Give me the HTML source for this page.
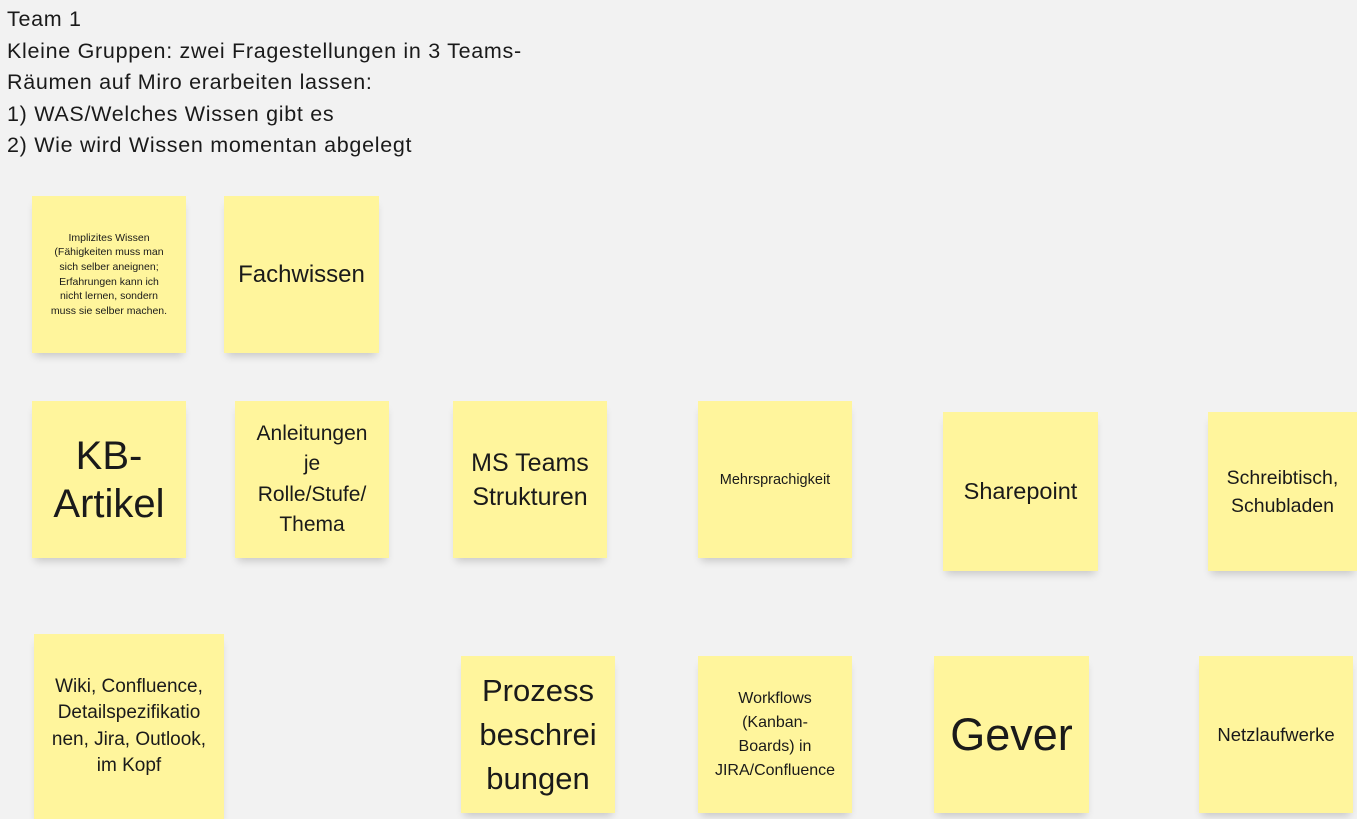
<!DOCTYPE html>
<html><head><meta charset="utf-8"><style>
html,body{margin:0;padding:0}
body{width:1357px;height:819px;background:#f2f2f2;position:relative;overflow:hidden;font-family:"Liberation Sans","DejaVu Sans",sans-serif;color:#1a1a1a}
.t{position:absolute;left:7px;top:4px;font-size:21.5px;letter-spacing:0.7px;line-height:31.6px;white-space:nowrap}
.n{position:absolute;background:#fff59c;box-shadow:0 6px 8px -3px rgba(0,0,0,0.18);display:flex;align-items:center;justify-content:center;text-align:center;box-sizing:border-box;padding:0 8px}
</style></head><body>
<div class="t">Team 1<br>Kleine Gruppen: zwei Fragestellungen in 3 Teams-<br>Räumen auf Miro erarbeiten lassen:<br>1) WAS/Welches Wissen gibt es<br>2) Wie wird Wissen momentan abgelegt</div>

<div class="n" style="left:32px;top:196px;width:154px;height:157px;font-size:10.5px;line-height:14.6px;padding:0 2px">Implizites Wissen<br>(Fähigkeiten muss man<br>sich selber aneignen;<br>Erfahrungen kann ich<br>nicht lernen, sondern<br>muss sie selber machen.</div>
<div class="n" style="left:224px;top:196px;width:155px;height:157px;font-size:24px;padding:0 2px">Fachwissen</div>

<div class="n" style="left:32px;top:401px;width:154px;height:157px;font-size:40px;line-height:48px">KB-<br>Artikel</div>
<div class="n" style="left:235px;top:401px;width:154px;height:157px;font-size:21px;line-height:30.5px">Anleitungen<br>je<br>Rolle/Stufe/<br>Thema</div>
<div class="n" style="left:453px;top:401px;width:154px;height:157px;font-size:25px;line-height:34px;padding:0 2px">MS Teams<br>Strukturen</div>
<div class="n" style="left:698px;top:401px;width:154px;height:157px;font-size:14.5px">Mehrsprachigkeit</div>
<div class="n" style="left:943px;top:412px;width:155px;height:159px;font-size:23.5px">Sharepoint</div>
<div class="n" style="left:1208px;top:412px;width:149px;height:159px;font-size:19.5px;line-height:28px;padding:0 2px">Schreibtisch,<br>Schubladen</div>

<div class="n" style="left:34px;top:634px;width:190px;height:185px;font-size:19px;line-height:26.5px;padding:0 12px">Wiki, Confluence,<br>Detailspezifikatio<br>nen, Jira, Outlook,<br>im Kopf</div>
<div class="n" style="left:461px;top:656px;width:154px;height:157px;font-size:31px;line-height:44px">Prozess<br>beschrei<br>bungen</div>
<div class="n" style="left:698px;top:656px;width:154px;height:157px;font-size:16px;line-height:24px;padding:0 2px">Workflows<br>(Kanban-<br>Boards) in<br>JIRA/Confluence</div>
<div class="n" style="left:934px;top:656px;width:155px;height:157px;font-size:45px">Gever</div>
<div class="n" style="left:1199px;top:656px;width:154px;height:157px;font-size:18.5px;padding:0 2px">Netzlaufwerke</div>
</body></html>
